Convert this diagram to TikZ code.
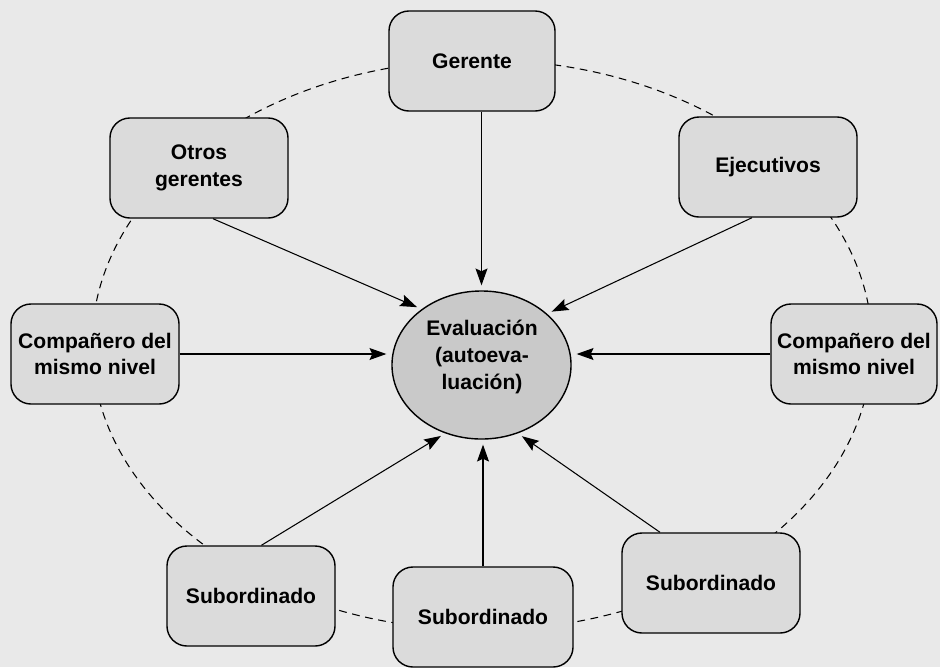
\documentclass[tikz,border=0pt]{standalone}
\usepackage{fontspec}
\setmainfont{Liberation Sans}
\usetikzlibrary{shapes.geometric,arrows.meta}
\definecolor{fondo}{HTML}{E9E9E9}
\definecolor{cajagris}{HTML}{DBDBDB}
\definecolor{evgris}{HTML}{C9C9C9}

\begin{document}
\begin{tikzpicture}[x=0.025cm, y=-0.025cm,
  rol/.style={draw, line width=1pt, fill=cajagris, rounded corners=0.5cm,
    minimum width=4.45cm, minimum height=2.5cm, inner sep=2pt, align=center,
    font=\fontsize{15}{19}\selectfont\bfseries},
  flecha/.style={-{Stealth[length=12pt,width=8.5pt,inset=2pt]}, line width=0.75pt, shorten >=3.5pt}]
  \fill[fondo] (0,0) rectangle (940,667);
  \useasboundingbox (0,0) rectangle (940,667);
  % dashed ring behind the boxes
  \draw[dash pattern=on 5.5pt off 4pt, line width=0.75pt] (482,345) ellipse [x radius=9.75cm, y radius=7.125cm];

  \node[rol, minimum width=4.15cm] (ger) at (472,61) {Gerente};
  \node[rol] (og) at (199,168) {Otros\\gerentes};
  \node[rol] (ej) at (768,167) {Ejecutivos};
  \node[rol, minimum width=4.2cm] (cl) at (95,354) {Compañero del\\mismo nivel};
  \node[rol, minimum width=4.15cm] (cr) at (854,354) {Compañero del\\mismo nivel};
  \node[rol, minimum width=4.2cm] (sl) at (251,596) {Subordinado};
  \node[rol, minimum width=4.5cm] (sc) at (483,617) {Subordinado};
  \node[rol] (sr) at (711,583) {Subordinado};

  \node[draw, ellipse, fill=evgris, line width=1pt, minimum width=4.475cm, minimum height=3.7cm,
    inner sep=0pt] (ev) at (481.5,365) {};
  \node[align=center, font=\fontsize{15}{19}\selectfont\bfseries] (evtxt) at (482,357)
    {Evaluación\\(autoeva-\\luación)};

  \draw[flecha] (ger.south -| ev.north) -- (ev.north);
  \draw[flecha] ([xshift=0.35cm]og.south) -- (ev.137);
  \draw[flecha] ([xshift=-0.4cm]ej.south) -- (ev.38);
  \draw[flecha] (cl.east) -- (cl.east -| ev.west);
  \draw[flecha] (cr.west) -- (cr.west -| ev.east);
  \draw[flecha] ([xshift=0.26cm]sl.north) -- (ev.-118);
  \draw[flecha] (sc.north) -- (sc.north |- ev.south);
  \draw[flecha] ([xshift=-1.275cm]sr.north) -- (ev.-62);
\end{tikzpicture}
\end{document}
